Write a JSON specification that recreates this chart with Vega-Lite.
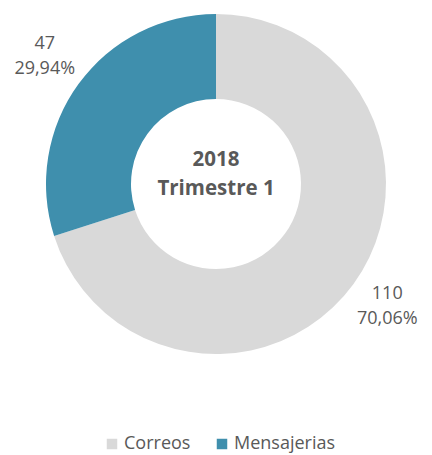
{
  "$schema": "https://vega.github.io/schema/vega-lite/v6.json",
  "width": 432,
  "height": 368,
  "autosize": {"type": "none"},
  "padding": {"left": 0, "top": 0, "right": 0, "bottom": 87},
  "background": "white",
  "config": {"view": {"stroke": null}, "font": "Open Sans"},
  "data": {
    "values": [
      {"categoria": "Correos", "cantidad": 110, "porcentaje": "70,06%"},
      {"categoria": "Mensajerias", "cantidad": 47, "porcentaje": "29,94%"}
    ]
  },
  "layer": [
    {
      "mark": {"type": "arc", "outerRadius": 170, "innerRadius": 85},
      "encoding": {
        "theta": {"field": "cantidad", "type": "quantitative", "stack": true},
        "order": {"field": "categoria", "type": "nominal"},
        "color": {
          "field": "categoria",
          "type": "nominal",
          "scale": {"domain": ["Correos", "Mensajerias"], "range": ["#d9d9d9", "#3f8fad"]},
          "legend": {
            "title": null,
            "orient": "none",
            "direction": "horizontal",
            "legendX": 103,
            "legendY": 435,
            "symbolType": "square",
            "symbolSize": 110,
            "symbolStrokeWidth": 0,
            "labelFontSize": 18,
            "labelColor": "#595959",
            "labelFont": "Open Sans",
            "labelOffset": 3,
            "columnPadding": 22
          }
        }
      }
    },
    {
      "mark": {"type": "text", "radius": 212, "dy": -15, "fontSize": 18, "color": "#595959"},
      "encoding": {
        "theta": {"field": "cantidad", "type": "quantitative", "stack": true},
        "order": {"field": "categoria", "type": "nominal"},
        "detail": {"field": "categoria", "type": "nominal"},
        "text": {"field": "cantidad", "type": "quantitative"}
      }
    },
    {
      "mark": {"type": "text", "radius": 212, "dy": 10, "fontSize": 18, "color": "#595959"},
      "encoding": {
        "theta": {"field": "cantidad", "type": "quantitative", "stack": true},
        "order": {"field": "categoria", "type": "nominal"},
        "detail": {"field": "categoria", "type": "nominal"},
        "text": {"field": "porcentaje", "type": "nominal"}
      }
    },
    {
      "data": {"values": [{"titulo": "2018\nTrimestre 1"}]},
      "mark": {"type": "text", "lineBreak": "\n", "lineHeight": 28.5, "fontSize": 20.5, "fontWeight": "bold", "color": "#595959", "baseline": "middle", "dy": -24},
      "encoding": {"text": {"field": "titulo", "type": "nominal"}}
    }
  ]
}
